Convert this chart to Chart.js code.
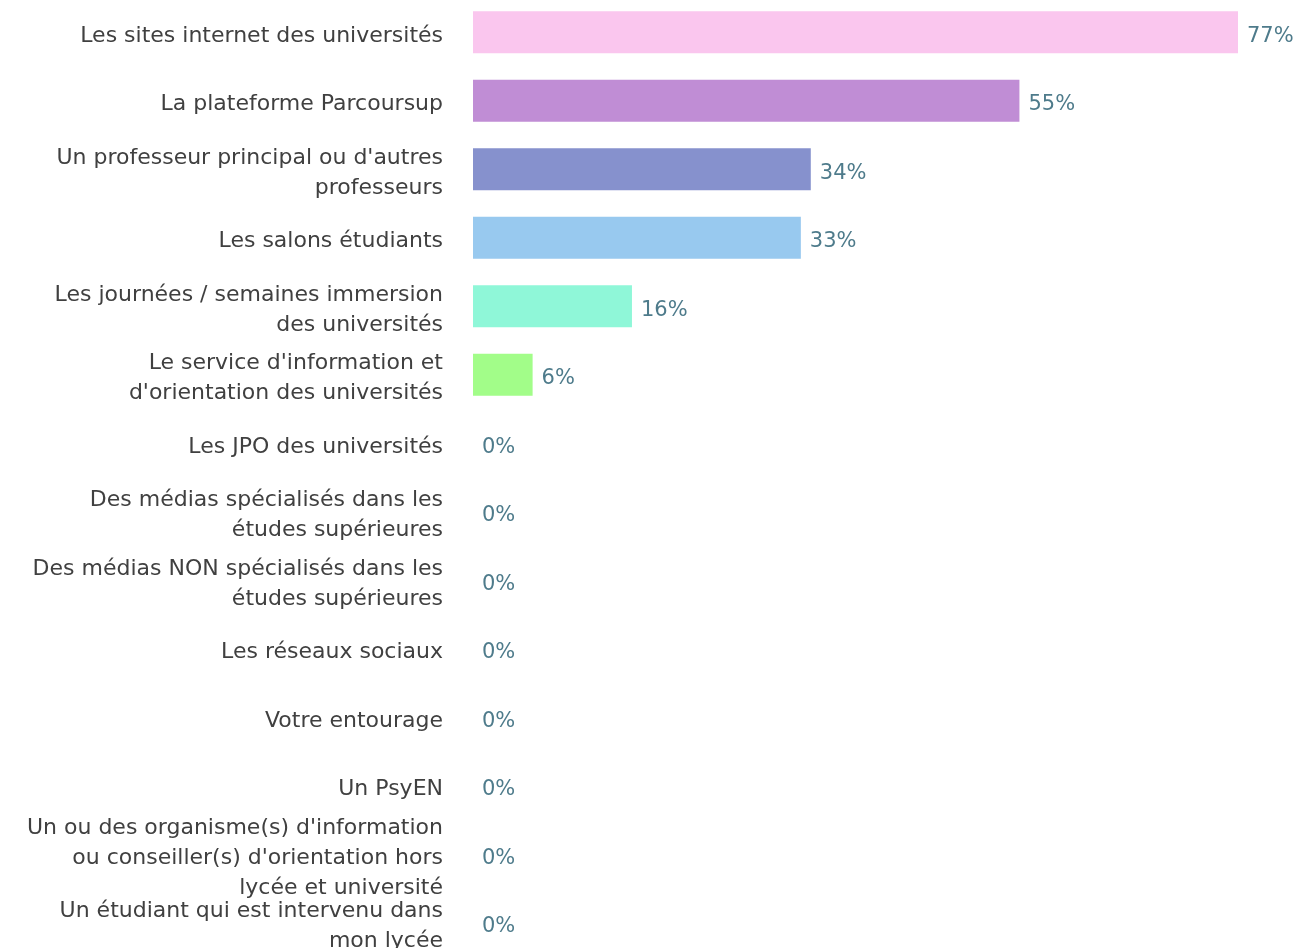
<!DOCTYPE html>
<html>
<head>
<meta charset="utf-8">
<script src="https://cdn.jsdelivr.net/npm/chart.js@4.4.1/dist/chart.umd.min.js"></script>
<style>
  html, body { margin: 0; padding: 0; background: #fff; overflow: hidden; }
  #wrap { position: absolute; left: 0; top: -2px; width: 1295px; height: 959px; }
</style>
</head>
<body>
<div id="wrap"><canvas id="sourcesChart"></canvas></div>
<script>
const categories = [
  "Les sites internet des universités",
  "La plateforme Parcoursup",
  ["Un professeur principal ou d'autres", "professeurs"],
  "Les salons étudiants",
  ["Les journées / semaines immersion", "des universités"],
  ["Le service d'information et", "d'orientation des universités"],
  "Les JPO des universités",
  ["Des médias spécialisés dans les", "études supérieures"],
  ["Des médias NON spécialisés dans les", "études supérieures"],
  "Les réseaux sociaux",
  "Votre entourage",
  "Un PsyEN",
  ["Un ou des organisme(s) d'information", "ou conseiller(s) d'orientation hors", "lycée et université"],
  ["Un étudiant qui est intervenu dans", "mon lycée"]
];
const values = [77, 55, 34, 33, 16, 6, 0, 0, 0, 0, 0, 0, 0, 0];
const barColors = ["#fac6ee", "#c08dd5", "#8691cd", "#98c9ef", "#8ff7d8", "#a2fd89",
  "#cccccc", "#cccccc", "#cccccc", "#cccccc", "#cccccc", "#cccccc", "#cccccc", "#cccccc"];

const FONT = "'Century Gothic', 'DejaVu Sans', sans-serif";

const valueLabels = {
  id: "valueLabels",
  afterDatasetsDraw(chart) {
    const ctx = chart.ctx;
    const meta = chart.getDatasetMeta(0);
    ctx.save();
    ctx.font = "21px " + FONT;
    ctx.fillStyle = "#4e7b8b";
    ctx.textAlign = "left";
    ctx.textBaseline = "middle";
    meta.data.forEach((bar, i) => {
      ctx.fillText(values[i] + "%", bar.x + 9, bar.y + 4);
    });
    ctx.restore();
  }
};

new Chart(document.getElementById("sourcesChart").getContext("2d"), {
  type: "bar",
  data: {
    labels: categories,
    datasets: [{
      data: values,
      backgroundColor: barColors,
      borderWidth: 0,
      categoryPercentage: 1,
      barPercentage: 0.61
    }]
  },
  options: {
    indexAxis: "y",
    responsive: true,
    maintainAspectRatio: false,
    animation: false,
    layout: { padding: { left: 0, right: 57, top: 0, bottom: 0 } },
    plugins: {
      legend: { display: false },
      tooltip: { enabled: false }
    },
    scales: {
      x: {
        display: false,
        min: 0,
        max: 77
      },
      y: {
        grid: { display: false },
        border: { display: false },
        afterFit(scale) {
          scale.width = 473;
          scale.paddingTop = 0;
          scale.paddingBottom = 0;
        },
        ticks: {
          autoSkip: false,
          padding: 22,
          labelOffset: 4,
          color: "#404040",
          font: { family: FONT, size: 22, lineHeight: "30px" }
        }
      }
    }
  },
  plugins: [valueLabels]
});
</script>
</body>
</html>
